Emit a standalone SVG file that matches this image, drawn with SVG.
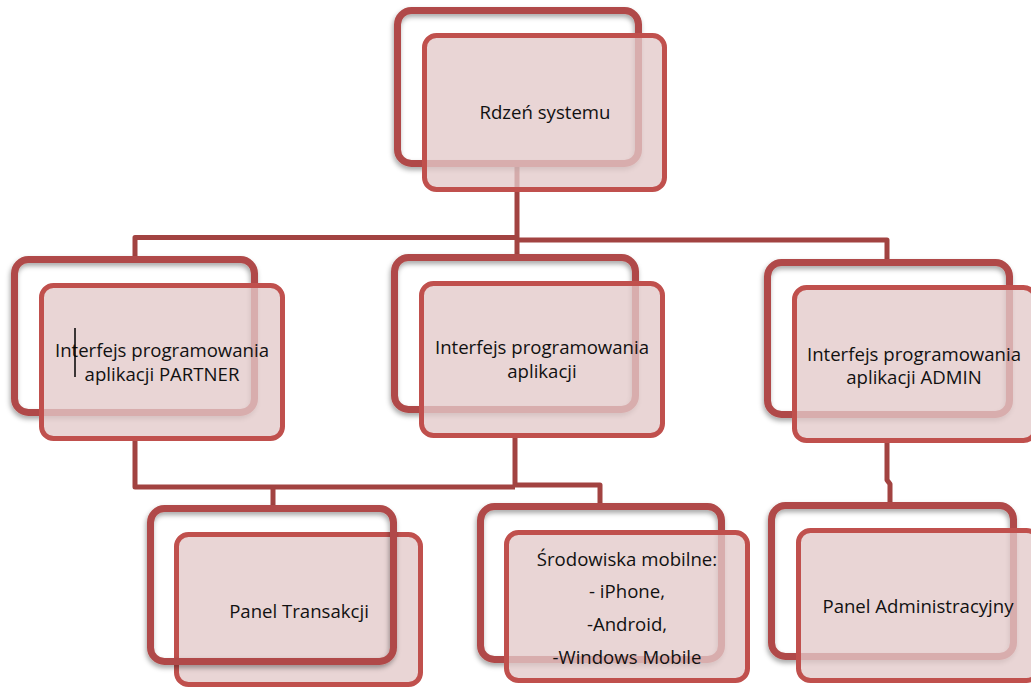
<svg xmlns="http://www.w3.org/2000/svg" width="1031" height="688" viewBox="0 0 1031 688">
<defs>
<filter id="sh" x="-10%" y="-10%" width="125%" height="130%">
<feDropShadow dx="-1" dy="3" stdDeviation="2.5" flood-color="#000" flood-opacity="0.35"/>
</filter>
</defs>
<style>
.back{fill:none;stroke:#B04A48;stroke-width:7}
.front{fill:#E3C9C9;fill-opacity:0.78;stroke:#C0504D;stroke-width:5}
.conn{fill:none;stroke:#A24341;stroke-width:5;stroke-linejoin:round}
.t{font-family:"Open Sans","Noto Sans",sans-serif;font-size:18.6px;fill:#111;text-anchor:middle}
</style>
<rect width="1031" height="688" fill="#fff"/>
<g id="connectors">
<path class="conn" d="M517,165 V257"/>
<path class="conn" d="M135,258 V237.5 H517"/>
<path class="conn" d="M517,240 H887 V262"/>
<path class="conn" d="M135,441 V487 H515"/>
<path class="conn" d="M515,438 V487"/>
<path class="conn" d="M273,506 V485"/>
<path class="conn" d="M515,485 H600 V505"/>
<path class="conn" d="M887,443 V480 L890,484 V503"/>
</g>
<g id="node-core">
<rect class="back" filter="url(#sh)" x="397.5" y="10.5" width="241" height="153" rx="14"/>
<rect class="front" x="424.5" y="35.5" width="240" height="154" rx="12"/>
<text class="t" x="545" y="119">Rdzeń systemu</text>
</g>
<g id="node-partner">
<rect class="back" filter="url(#sh)" x="14.5" y="259.5" width="240" height="153" rx="14"/>
<rect class="front" x="41.5" y="285.5" width="241" height="153" rx="12"/>
<text class="t" x="162" y="357">Interfejs programowania</text>
<text class="t" x="162" y="381">aplikacji PARTNER</text>
<line x1="75" y1="328" x2="75" y2="377" stroke="#000" stroke-width="1.5"/>
</g>
<g id="node-api">
<rect class="back" filter="url(#sh)" x="394.5" y="257.5" width="241" height="152" rx="14"/>
<rect class="front" x="421.5" y="283.5" width="241" height="152" rx="12"/>
<text class="t" x="542" y="354">Interfejs programowania</text>
<text class="t" x="542" y="378">aplikacji</text>
</g>
<g id="node-admin">
<rect class="back" filter="url(#sh)" x="767.5" y="262.5" width="242" height="152" rx="14"/>
<rect class="front" x="794.5" y="287.5" width="241" height="153" rx="12"/>
<text class="t" x="914" y="361">Interfejs programowania</text>
<text class="t" x="914" y="384">aplikacji ADMIN</text>
</g>
<g id="node-transakcji">
<rect class="front" x="176.5" y="534.5" width="244" height="150" rx="12"/>
<rect class="back" filter="url(#sh)" x="150.5" y="508.5" width="243" height="153" rx="14"/>
<text class="t" x="299" y="618">Panel Transakcji</text>
</g>
<g id="node-mobile">
<rect class="back" filter="url(#sh)" x="480.5" y="506.5" width="241" height="153" rx="14"/>
<rect class="front" x="506.5" y="532.5" width="241" height="148" rx="12"/>
<text class="t" x="627" y="566">Środowiska mobilne:</text>
<text class="t" x="627" y="598">- iPhone,</text>
<text class="t" x="627" y="631">-Android,</text>
<text class="t" x="627" y="664">-Windows Mobile</text>
</g>
<g id="node-adminpanel">
<rect class="back" filter="url(#sh)" x="771.5" y="505.5" width="242" height="151" rx="14"/>
<rect class="front" x="798.5" y="530.5" width="240" height="150" rx="12"/>
<text class="t" x="918" y="613">Panel Administracyjny</text>
</g>
</svg>
